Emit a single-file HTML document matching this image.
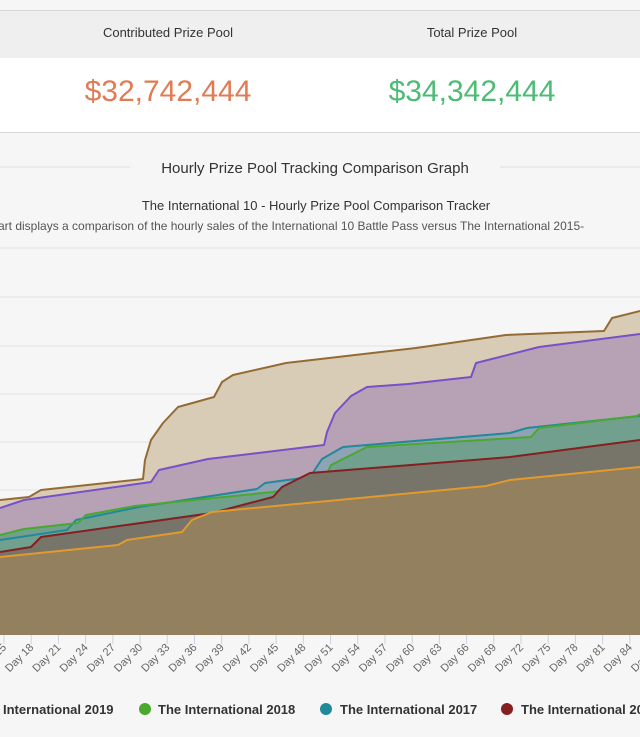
<!DOCTYPE html>
<html><head><meta charset="utf-8"><style>
body{margin:0;width:640px;height:737px;overflow:hidden;background:#f6f6f6;font-family:"Liberation Sans","DejaVu Sans",sans-serif;position:relative}
.a{position:absolute}
</style></head><body>
<div class="a" style="left:0;top:10px;width:640px;height:47px;background:#efefef;border-top:1px solid #d6d6d6;border-bottom:1px solid #d6d6d6"></div>
<div class="a" style="left:0;top:58px;width:640px;height:74px;background:#fff;border-bottom:1px solid #d6d6d6"></div>
<div class="a" style="left:68px;width:200px;top:25px;text-align:center;font-size:13px;color:#333">Contributed Prize Pool</div>
<div class="a" style="left:372px;width:200px;top:25px;text-align:center;font-size:13px;color:#333">Total Prize Pool</div>
<div class="a" style="left:48px;width:240px;top:75px;text-align:center;font-size:30px;color:#e07b53">$32,742,444</div>
<div class="a" style="left:352px;width:240px;top:75px;text-align:center;font-size:30px;color:#4cbb74">$34,342,444</div>
<svg class="a" style="left:0;top:0" width="640" height="737">
<line x1="0" y1="167" x2="130" y2="167" stroke="#ddd"/><line x1="500" y1="167" x2="640" y2="167" stroke="#ddd"/>
<text x="315" y="173" text-anchor="middle" font-size="15" fill="#333">Hourly Prize Pool Tracking Comparison Graph</text>
<text x="316" y="210" text-anchor="middle" font-size="13" fill="#333">The International 10 - Hourly Prize Pool Comparison Tracker</text>
<text x="-2" y="230" font-size="12" fill="#555">art displays a comparison of the hourly sales of the International 10 Battle Pass versus The International 2015-</text>
<g stroke="#e3e3e3"><line x1="0" y1="248" x2="640" y2="248"/><line x1="0" y1="297" x2="640" y2="297"/><line x1="0" y1="346" x2="640" y2="346"/><line x1="0" y1="394" x2="640" y2="394"/><line x1="0" y1="442" x2="640" y2="442"/><line x1="0" y1="490" x2="640" y2="490"/></g>
<g stroke-width="2" stroke-linejoin="round">
<path d="M0,500 L29,497 L41,490 L143,479 L145,460 L151,440 L163,423 L178,407 L214,397 L222,382 L233,375 L286,363 L416,348 L506,335 L604,331 L612,318 L640,311 L640,635 L0,635Z" fill="#d9ccb6" stroke="none"/>
<path d="M0,500 L29,497 L41,490 L143,479 L145,460 L151,440 L163,423 L178,407 L214,397 L222,382 L233,375 L286,363 L416,348 L506,335 L604,331 L612,318 L640,311" fill="none" stroke="#946b34"/>
<path d="M0,508 L24,500 L151,482 L159,470 L208,459 L324,445 L327,432 L335,413 L351,396 L367,387 L408,384 L471,377 L476,363 L539,347 L640,334 L640,635 L0,635Z" fill="#b6a1b5"/>
<path d="M0,508 L24,500 L151,482 L159,470 L208,459 L324,445 L327,432 L335,413 L351,396 L367,387 L408,384 L471,377 L476,363 L539,347 L640,334" fill="none" stroke="#7a4fc8"/>
<path d="M0,540 L67,530 L76,520 L139,507 L257,489 L265,483 L310,477 L322,459 L343,447 L510,433 L527,428 L640,416 L640,635 L0,635Z" fill="#8ea3b4"/>
<path d="M0,535 L24,529 L78,523 L86,515 L135,506 L273,492 L322,484 L331,465 L367,447 L531,437 L539,428 L637,416 L640,414 L640,635 L0,635Z" fill="#72a08f"/>
<path d="M0,540 L67,530 L76,520 L139,507 L257,489 L265,483 L310,477 L322,459 L343,447 L510,433 L527,428 L640,416" fill="none" stroke="#22899a"/>
<path d="M0,535 L24,529 L78,523 L86,515 L135,506 L273,492 L322,484 L331,465 L367,447 L531,437 L539,428 L637,416 L640,414" fill="none" stroke="#4aa82f"/>
<path d="M0,552 L31,547 L41,537 L212,513 L273,497 L282,487 L310,473 L510,457 L640,440 L640,635 L0,635Z" fill="#77746a"/>
<path d="M0,552 L31,547 L41,537 L212,513 L273,497 L282,487 L310,473 L510,457 L640,440" fill="none" stroke="#84201f"/>
<path d="M0,557 L118,545 L127,540 L182,532 L192,520 L212,512 L486,486 L510,480 L640,467 L640,635 L0,635Z" fill="#92805e"/>
<path d="M0,557 L118,545 L127,540 L182,532 L192,520 L212,512 L486,486 L510,480 L640,467" fill="none" stroke="#e39a2a"/>
</g>
<g id="ticks" stroke="#c8d3e8" font-size="11" fill="#666"></g>
<g fill="#4aa82f"><circle cx="145" cy="709" r="6"/></g><circle cx="326" cy="709" r="6" fill="#22899a"/><circle cx="507" cy="709" r="6" fill="#84201f"/>
<g font-size="13" font-weight="bold" fill="#333">
<text x="3" y="714">International 2019</text>
<text x="158" y="714">The International 2018</text>
<text x="340" y="714">The International 2017</text>
<text x="521" y="714">The International 2016</text>
</g>
</svg>
<script>
var g=document.getElementById('ticks'),s='';
for(var d=15;d<=87;d+=3){var x=4+(d-15)*9.07;
s+='<line x1="'+x+'" y1="635" x2="'+x+'" y2="644"/>';
s+='<text stroke="none" text-anchor="end" transform="translate('+(x+3)+',648) rotate(-45)">Day '+d+'</text>';}
g.innerHTML=s;
</script>
</body></html>
